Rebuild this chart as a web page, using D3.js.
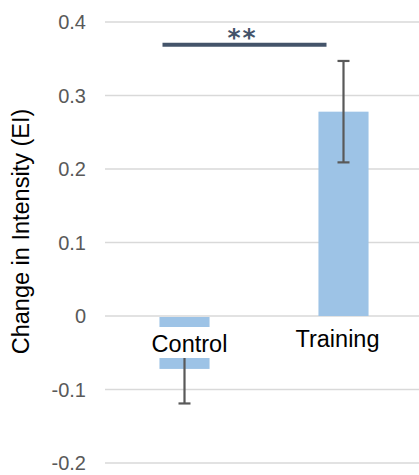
<!DOCTYPE html>
<html>
<head>
<meta charset="utf-8">
<script src="https://cdn.jsdelivr.net/npm/d3@7"></script>
<style>
  html, body { margin: 0; padding: 0; background: #fff; }
  svg { display: block; }
</style>
</head>
<body>
<svg id="chart" width="419" height="475"></svg>
<script>
// Group means and standard errors of the change in intensity
const categories = ["Control", "Training"];
const means = [-0.072, 0.278];
const errors = [0.047, 0.069];
const yTicks = [-0.2, -0.1, 0, 0.1, 0.2, 0.3, 0.4];
const tickLabels = ["-0.2", "-0.1", "0", "0.1", "0.2", "0.3", "0.4"];
const sigLevel = 0.369;
const sigText = "**";

const svg = d3.select("#chart");
const plot = { left: 105, right: 419, top: 22, bottom: 463 };

const y = d3.scaleLinear().domain([-0.2, 0.4]).range([plot.bottom, plot.top]);
const x = d3.scalePoint().domain(categories).range([plot.left, plot.right + 4]).padding(0.5);
const barW = x.step() * 0.315;

// Horizontal gridlines
svg.append("g").selectAll("line").data(yTicks).join("line")
  .attr("x1", plot.left).attr("x2", plot.right)
  .attr("y1", d => y(d)).attr("y2", d => y(d))
  .attr("stroke", "#D9D9D9").attr("stroke-width", 1.5);

// Tick labels
svg.append("g").selectAll("text").data(yTicks).join("text")
  .attr("x", 86).attr("y", d => y(d))
  .attr("dy", "0.36em")
  .attr("text-anchor", "end")
  .attr("font-family", "Liberation Sans, Arial, sans-serif")
  .attr("font-size", 20)
  .attr("fill", "#595959")
  .text((d, i) => tickLabels[i]);

// Axis title
svg.append("text")
  .attr("transform", `translate(29,${(108 + 355) / 2}) rotate(-90)`)
  .attr("text-anchor", "middle")
  .attr("font-family", "Liberation Sans, Arial, sans-serif")
  .attr("font-size", 23.5)
  .attr("fill", "#000")
  .text("Change in Intensity (EI)");

// Bars
svg.append("g").selectAll("rect").data(categories).join("rect")
  .attr("x", d => x(d) - barW / 2)
  .attr("width", barW)
  .attr("y", (d, i) => y(Math.max(0, means[i])) + (means[i] < 0 ? 1 : 0))
  .attr("height", (d, i) => Math.abs(y(means[i]) - y(0)) - (means[i] < 0 ? 1 : 0))
  .attr("fill", "#9DC3E6");

// Error bars
const eb = svg.append("g").attr("stroke", "#595959").attr("stroke-width", 2.2);
categories.forEach((c, i) => {
  const cx = x(c);
  const lo = y(means[i] - errors[i]), hi = y(means[i] + errors[i]);
  eb.append("line").attr("x1", cx).attr("x2", cx).attr("y1", lo).attr("y2", hi);
  eb.append("line").attr("x1", cx - 6).attr("x2", cx + 6).attr("y1", lo).attr("y2", lo);
  eb.append("line").attr("x1", cx - 6).attr("x2", cx + 6).attr("y1", hi).attr("y2", hi);
});

// Category labels with white backing boxes
const labelOffsets = { Control: { dx: 5, base: 351.5, box: [327, 358] }, Training: { dx: -6, base: 346.5, box: [324, 354] } };
categories.forEach(c => {
  const o = labelOffsets[c];
  svg.append("rect")
    .attr("x", x(c) + o.dx - 48).attr("width", 96)
    .attr("y", o.box[0]).attr("height", o.box[1] - o.box[0])
    .attr("fill", "#fff");
  svg.append("text")
    .attr("x", x(c) + o.dx).attr("y", o.base)
    .attr("text-anchor", "middle")
    .attr("font-family", "Liberation Sans, Arial, sans-serif")
    .attr("font-size", 23.5)
    .attr("fill", "#000")
    .text(c);
});

// Significance bracket
const sy = y(sigLevel);
svg.append("line")
  .attr("x1", x("Control") - 22).attr("x2", x("Training") - 17)
  .attr("y1", sy).attr("y2", sy)
  .attr("stroke", "#44546A").attr("stroke-width", 4);
svg.append("text")
  .attr("x", (x("Control") - 22 + x("Training") - 17) / 2 - 2)
  .attr("y", sy + 1)
  .attr("text-anchor", "middle")
  .attr("font-family", "DejaVu Sans, sans-serif")
  .attr("font-weight", "bold")
  .attr("font-size", 25)
  .attr("letter-spacing", 2)
  .attr("fill", "#44546A")
  .text(sigText);
</script>
</body>
</html>
